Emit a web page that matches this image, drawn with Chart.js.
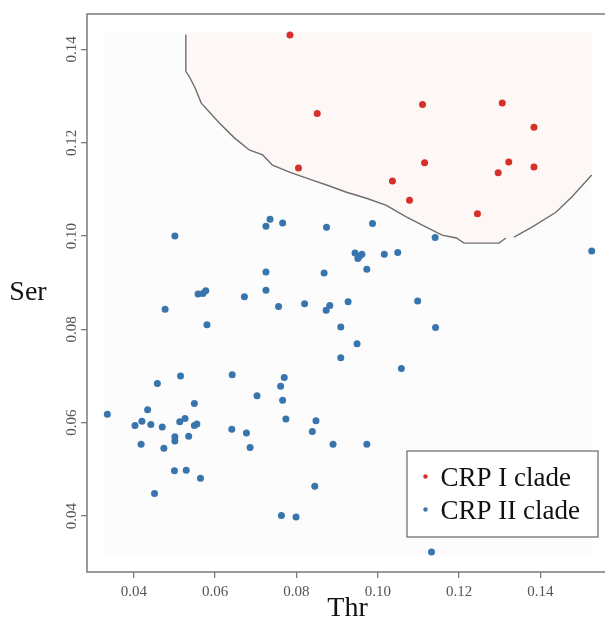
<!DOCTYPE html>
<html lang="en">
<head>
<meta charset="UTF-8">
<title>Thr vs Ser</title>
<style>
  html, body { margin: 0; padding: 0; background: #fff; overflow: hidden; }
  #wrap { width: 612px; height: 624px; }
</style>
<script src="https://cdn.jsdelivr.net/npm/chart.js"></script>
</head>
<body>
<div id="wrap"><canvas id="chart" width="612" height="624"></canvas></div>
<script>
// CRP I clade (red)
const redX = [0.0784, 0.0851, 0.0805, 0.1110, 0.1306, 0.1384, 0.1115, 0.1322, 0.1296, 0.1384, 0.1036, 0.1078, 0.1245];
const redY = [0.1431, 0.1263, 0.1146, 0.1282, 0.1285, 0.1233, 0.1157, 0.1159, 0.1136, 0.1148, 0.1118, 0.1077, 0.1048];

// CRP II clade (blue)
const blueX = [0.0335, 0.0403, 0.0420, 0.0418, 0.0434, 0.0442, 0.0458, 0.0477, 0.0470, 0.0474,
               0.0451, 0.0501, 0.0515, 0.0513, 0.0526, 0.0501, 0.0501, 0.0500, 0.0529, 0.0535,
               0.0549, 0.0549, 0.0555, 0.0564, 0.0558, 0.0570, 0.0577, 0.0580, 0.0642, 0.0641,
               0.0672, 0.0677, 0.0686, 0.0703, 0.0725, 0.0735, 0.0766, 0.0725, 0.0725, 0.0756,
               0.0761, 0.0770, 0.0766, 0.0774, 0.0763, 0.0799, 0.0820, 0.0874, 0.0868, 0.0873,
               0.0882, 0.0909, 0.0909, 0.0927, 0.0949, 0.0944, 0.0961, 0.0955, 0.0951, 0.0973,
               0.0987, 0.1016, 0.1049, 0.1098, 0.1058, 0.1142, 0.1141, 0.1526, 0.1132, 0.0839,
               0.0848, 0.0890, 0.0973, 0.0845];
const blueY = [0.0618, 0.0594, 0.0603, 0.0554, 0.0628, 0.0596, 0.0684, 0.0843, 0.0591, 0.0545,
               0.0448, 0.1000, 0.0700, 0.0602, 0.0609, 0.0570, 0.0561, 0.0497, 0.0498, 0.0571,
               0.0641, 0.0594, 0.0597, 0.0481, 0.0876, 0.0877, 0.0883, 0.0810, 0.0703, 0.0586,
               0.0870, 0.0578, 0.0547, 0.0658, 0.1021, 0.1036, 0.1028, 0.0923, 0.0884, 0.0849,
               0.0678, 0.0697, 0.0648, 0.0608, 0.0401, 0.0398, 0.0855, 0.1019, 0.0921, 0.0841,
               0.0851, 0.0805, 0.0739, 0.0859, 0.0769, 0.0964, 0.0961, 0.0957, 0.0952, 0.0929,
               0.1027, 0.0961, 0.0965, 0.0861, 0.0716, 0.0804, 0.0997, 0.0968, 0.0323, 0.0581,
               0.0604, 0.0554, 0.0554, 0.0464];

// decision boundary (null = small gap in the line)
const boundaryX = [0.0528, 0.0528, 0.0537, 0.0550, 0.0566, 0.0611, 0.0648, 0.0685, 0.0717, 0.0741,
                   0.0783, 0.0839, 0.0876, 0.0923, 0.0972, 0.1021, 0.1070, 0.1119, 0.1158, 0.1193,
                   0.1212, 0.1298, 0.1315, 0.1325, 0.1335, 0.1379, 0.1438, 0.1477, 0.1526];
const boundaryY = [0.1432, 0.1353, 0.1341, 0.1319, 0.1285, 0.1242, 0.1210, 0.1184, 0.1174, 0.1152,
                   0.1137, 0.1120, 0.1109, 0.1094, 0.1081, 0.1066, 0.1041, 0.1019, 0.1002, 0.0996,
                   0.0985, 0.0985, 0.0996, null, 0.0998, 0.1019, 0.1051, 0.1084, 0.1131];

// extent of the classified grid behind the points
const regionX = [0.0329, 0.1526];
const regionY = [0.0316, 0.1437];

const xTicks = [0.04, 0.06, 0.08, 0.10, 0.12, 0.14];
const yTicks = [0.04, 0.06, 0.08, 0.10, 0.12, 0.14];
const xTitle = 'Thr';
const yTitle = 'Ser';

function pts(xs, ys) {
    return xs.map((x, i) => ({ x: x, y: ys[i] }));
}

const boundaryPts = pts(boundaryX, boundaryY);
const pinkPts = boundaryPts.filter(p => p.y !== null).concat([
    { x: regionX[1], y: regionY[1] },
    { x: boundaryX[0], y: regionY[1] }
]);
const regionPts = [
    { x: regionX[0], y: regionY[0] },
    { x: regionX[1], y: regionY[0] },
    { x: regionX[1], y: regionY[1] },
    { x: regionX[0], y: regionY[1] }
];

const serif = '"Liberation Serif", "Times New Roman", serif';

// box around plot, horizontal y title, legend
const extras = {
    id: 'extras',
    afterDraw(chart) {
        const ctx = chart.ctx;
        const a = chart.chartArea;
        ctx.save();
        ctx.strokeStyle = '#7a7a7a';
        ctx.lineWidth = 1.5;
        ctx.strokeRect(a.left, a.top, a.right - a.left, a.bottom - a.top);

        ctx.fillStyle = '#111';
        ctx.font = '28px ' + serif;
        ctx.textAlign = 'center';
        ctx.textBaseline = 'alphabetic';
        ctx.fillText(yTitle, 28, (a.top + a.bottom) / 2 + 7);

        // legend
        const bx = a.right - 201, by = a.bottom - 121, bw = 191, bh = 86;
        ctx.fillStyle = '#fff';
        ctx.fillRect(bx, by, bw, bh);
        ctx.strokeStyle = '#666';
        ctx.lineWidth = 1.2;
        ctx.strokeRect(bx, by, bw, bh);
        const items = chart.data.datasets.filter(d => d.label);
        ctx.font = '27px ' + serif;
        ctx.textAlign = 'left';
        items.forEach((d, i) => {
            const cy = by + 25.5 + i * 33;
            ctx.fillStyle = d.backgroundColor;
            ctx.beginPath();
            ctx.arc(bx + 18.5, cy, 2.2, 0, Math.PI * 2);
            ctx.fill();
            ctx.fillStyle = '#111';
            ctx.fillText(d.label, bx + 33.5, cy + 9.5);
        });
        ctx.restore();
    }
};

new Chart(document.getElementById('chart'), {
    type: 'scatter',
    data: {
        datasets: [
            {
                label: 'CRP I clade',
                data: pts(redX, redY),
                backgroundColor: '#d6302b',
                borderWidth: 0,
                pointRadius: 3.5,
                order: 1
            },
            {
                label: 'CRP II clade',
                data: pts(blueX, blueY),
                backgroundColor: '#3975ad',
                borderWidth: 0,
                pointRadius: 3.5,
                order: 2
            },
            {
                data: boundaryPts,
                showLine: true,
                spanGaps: false,
                borderColor: '#6e6e6e',
                borderWidth: 1.4,
                pointRadius: 0,
                fill: false,
                order: 3
            },
            {
                data: pinkPts,
                showLine: true,
                borderWidth: 0,
                borderColor: 'rgba(0,0,0,0)',
                backgroundColor: '#fdf7f6',
                pointRadius: 0,
                fill: 'shape',
                order: 4
            },
            {
                data: regionPts,
                showLine: true,
                borderWidth: 0,
                borderColor: 'rgba(0,0,0,0)',
                backgroundColor: '#fcfcfc',
                pointRadius: 0,
                fill: 'shape',
                order: 5
            }
        ]
    },
    options: {
        responsive: false,
        animation: false,
        events: [],
        layout: { padding: { top: 14, right: 3, left: 0, bottom: 0 } },
        plugins: {
            legend: { display: false },
            tooltip: { enabled: false }
        },
        scales: {
            x: {
                type: 'linear',
                min: 0.0285,
                max: 0.1566,
                afterBuildTicks: s => { s.ticks = xTicks.map(v => ({ value: v })); },
                afterFit: s => { s.height = 52; },
                border: { display: false },
                grid: { drawOnChartArea: false, drawTicks: true, tickLength: 6, color: '#7a7a7a', lineWidth: 1.3 },
                ticks: {
                    padding: 5,
                    color: '#555',
                    font: { family: serif, size: 15 },
                    maxRotation: 0,
                    callback: v => v.toFixed(2)
                },
                title: {
                    display: true,
                    text: xTitle,
                    color: '#111',
                    font: { family: serif, size: 28, lineHeight: 1 },
                    padding: { top: 0, bottom: 1.5 }
                }
            },
            y: {
                type: 'linear',
                min: 0.0280,
                max: 0.1476,
                afterBuildTicks: s => { s.ticks = yTicks.map(v => ({ value: v })); },
                afterFit: s => { s.width = 87; },
                border: { display: false },
                grid: { drawOnChartArea: false, drawTicks: true, tickLength: 6, color: '#7a7a7a', lineWidth: 1.3 },
                ticks: {
                    padding: -4,
                    crossAlign: 'center',
                    minRotation: 90,
                    maxRotation: 90,
                    color: '#555',
                    font: { family: serif, size: 15 },
                    callback: v => v.toFixed(2)
                }
            }
        }
    },
    plugins: [extras]
});
</script>
</body>
</html>
